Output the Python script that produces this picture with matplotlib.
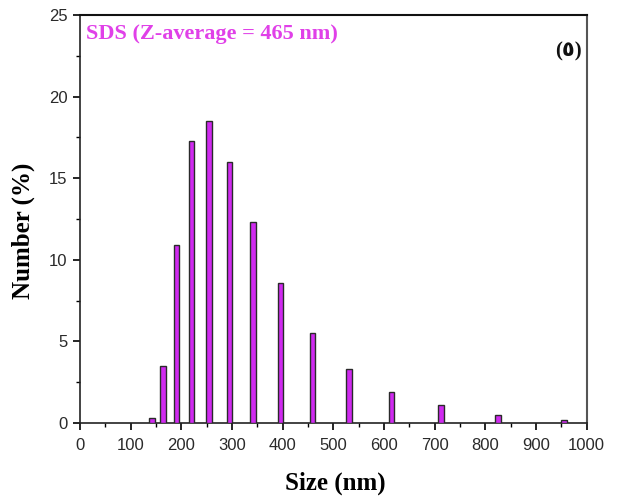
import matplotlib
matplotlib.use("Agg")
import matplotlib.pyplot as plt
from matplotlib.ticker import MultipleLocator

# Size bins (nm) and number distribution (%)
sizes = [141.8, 164.2, 190.1, 220.2, 255.0, 295.3, 342.0, 396.1, 458.7,
         531.2, 615.1, 712.4, 825.0, 955.4]
number_pct = [0.3, 3.5, 10.9, 17.3, 18.5, 16.0, 12.3, 8.6, 5.5,
              3.3, 1.9, 1.1, 0.5, 0.2]

x_ticks = list(range(0, 1001, 100))
y_ticks = [0, 5, 10, 15, 20, 25]

fig = plt.figure(figsize=(6.18, 4.97), dpi=100)
ax = fig.add_axes([0.1294, 0.149, 0.8200, 0.8208])

ax.bar(sizes, number_pct, width=11, color="#D02AF0", edgecolor="#2a2a2a",
       linewidth=1.0, align="center", zorder=3)

ax.set_xlim(0, 1000)
ax.set_ylim(0, 25)
ax.set_xticks(x_ticks)
ax.set_yticks(y_ticks)
ax.xaxis.set_minor_locator(MultipleLocator(50))
ax.yaxis.set_minor_locator(MultipleLocator(2.5))

tick_font = {"family": "Liberation Sans", "size": 12}
ax.set_xticklabels([str(t) for t in x_ticks], fontdict=tick_font, color="#2a2a2a")
ax.set_yticklabels([str(t) for t in y_ticks], fontdict=tick_font, color="#2a2a2a")

ax.tick_params(which="major", direction="out", length=5, width=1.2,
               top=False, right=False)
ax.tick_params(axis="x", which="major", pad=6)
ax.tick_params(axis="y", which="major", pad=4)
ax.tick_params(which="minor", direction="out", length=3, width=1.0,
               top=False, right=False)

for side in ["left", "bottom"]:
    ax.spines[side].set_linewidth(1.2)
    ax.spines[side].set_color("#222222")
ax.spines["top"].set_linewidth(1.5)
ax.spines["top"].set_color("#111111")
ax.spines["right"].set_linewidth(1.5)
ax.spines["right"].set_color("#555555")

ax.set_xlabel("Size (nm)", family="Liberation Serif", fontweight="bold",
              fontsize=18)
ax.set_ylabel("Number (%)", family="Liberation Serif", fontweight="bold",
              fontsize=18)
ax.xaxis.set_label_coords(0.503, -0.118)
ax.yaxis.set_label_coords(-0.089, 0.472)

ax.text(0.012, 0.978, "SDS (Z-average = 465 nm)", transform=ax.transAxes,
        family="Liberation Serif", fontweight="bold", fontsize=16,
        color="#E040E8", ha="left", va="top")
ax.text(0.99, 0.935, "(\u0665)", transform=ax.transAxes,
        family=["Liberation Serif", "DejaVu Sans"], fontweight="bold",
        fontsize=15, color="#111111", ha="right", va="top")

fig.savefig("out.png", dpi=100)
